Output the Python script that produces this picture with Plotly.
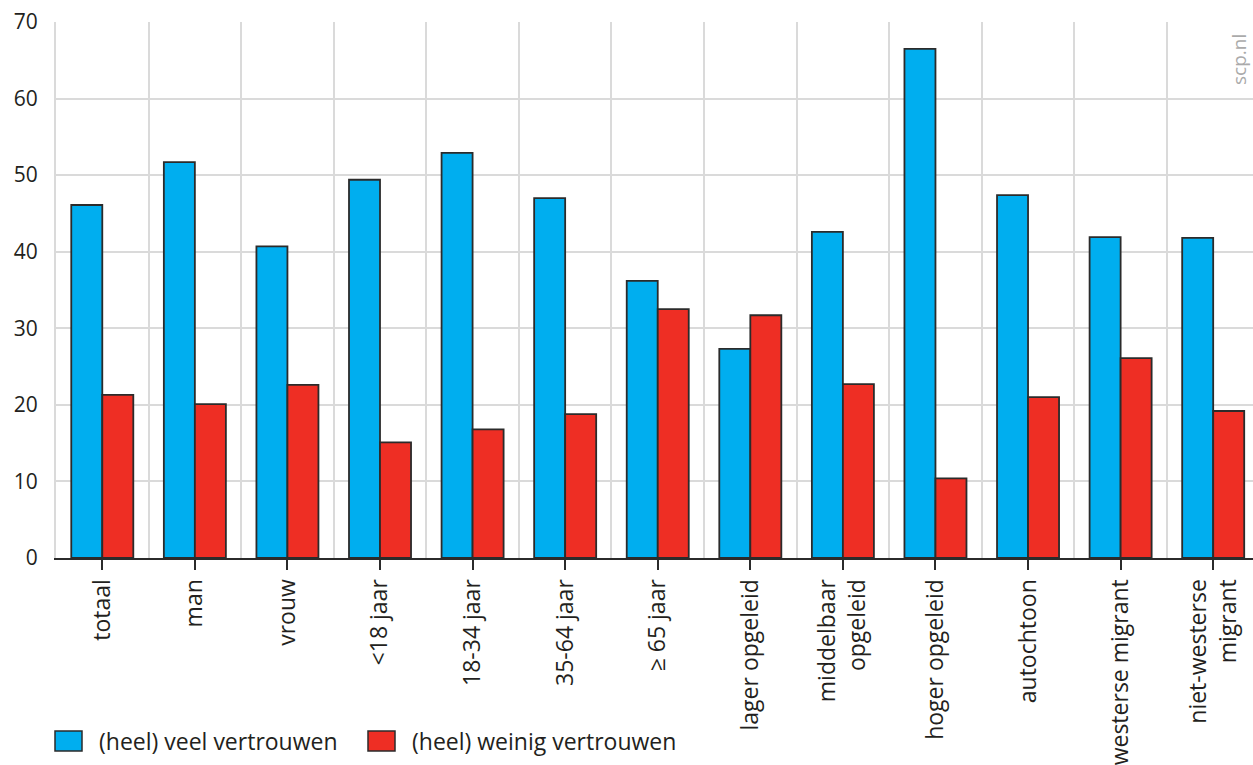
import plotly.graph_objects as go

categories = ["totaal", "man", "vrouw", "<18 jaar", "18-34 jaar", "35-64 jaar", "≥ 65 jaar",
              "lager opgeleid", "middelbaar<br>opgeleid", "hoger opgeleid", "autochtoon",
              "westerse migrant", "niet-westerse<br>migrant"]
veel = [46.1, 51.7, 40.7, 49.4, 52.9, 47.0, 36.2, 27.3, 42.6, 66.5, 47.4, 41.9, 41.8]
weinig = [21.3, 20.1, 22.6, 15.1, 16.8, 18.8, 32.5, 31.7, 22.7, 10.4, 21.0, 26.1, 19.2]
series_names = ["(heel) veel vertrouwen", "(heel) weinig vertrouwen"]
colors = ["#00AEEF", "#EE2E24"]

FONT = "Open Sans"
TXT = "#231f20"
xs = list(range(len(categories)))

fig = go.Figure()
for name, vals, col in zip(series_names, [veel, weinig], colors):
    fig.add_trace(go.Bar(x=xs, y=vals, name=name, marker_color=col,
                         marker_line_color="#2b2b2b", marker_line_width=1.8,
                         showlegend=False))

fig.update_layout(
    width=1253, height=765,
    margin=dict(l=56, r=0, t=22, b=207, autoexpand=False),
    paper_bgcolor="white", plot_bgcolor="white",
    barmode="group", bargap=0.33, bargroupgap=0,
    font=dict(family=FONT, color=TXT, size=20),
)
fig.update_xaxes(
    type="linear", range=[-0.5, 12.43], automargin=False,
    tickmode="array", tickvals=xs, ticktext=categories, tickangle=-90,
    ticks="outside", ticklen=10, tickwidth=2, tickcolor="#2b2b2b",
    tickfont=dict(size=23, family=FONT, color=TXT),
    showgrid=False, zeroline=False,
    showline=True, linecolor="#2b2b2b", linewidth=2,
    minor=dict(tickmode="linear", tick0=0.5, dtick=1, showgrid=True,
               gridcolor="#dadada", gridwidth=2, ticks=""),
)
fig.update_yaxes(
    range=[0, 70], dtick=10, showgrid=True, gridcolor="#dadada", gridwidth=2,
    zeroline=False, showline=True, linecolor="#dadada", linewidth=2,
    ticks="", automargin=False, ticklabelstandoff=12,
    tickfont=dict(size=21, family=FONT, color=TXT),
)

# legend drawn manually
def px_x(p):
    return (p - 56) / 1197.0

def px_y(p):
    return (558 - p) / 536.0

leg = [(55, 82, 97), (368, 395, 410)]
for (x0, x1, xt), name, col in zip(leg, series_names, colors):
    fig.add_shape(type="rect", xref="paper", yref="paper",
                  x0=px_x(x0), x1=px_x(x1), y0=px_y(751), y1=px_y(731),
                  fillcolor=col, line=dict(color="#2b2b2b", width=1.5))
    fig.add_annotation(xref="paper", yref="paper", x=px_x(xt), y=px_y(741),
                       text=name, showarrow=False, xanchor="left", yanchor="middle",
                       font=dict(size=23, family=FONT, color=TXT))

fig.add_annotation(xref="paper", yref="paper", x=px_x(1239), y=px_y(60),
                   text="scp.nl", textangle=-90, showarrow=False,
                   xanchor="center", yanchor="middle",
                   font=dict(size=19, family=FONT, color="#aaaaaa"))

fig.write_html("out.html", config={"displayModeBar": False},
               post_script="document.body.style.margin='0';document.body.style.overflow='hidden';")
